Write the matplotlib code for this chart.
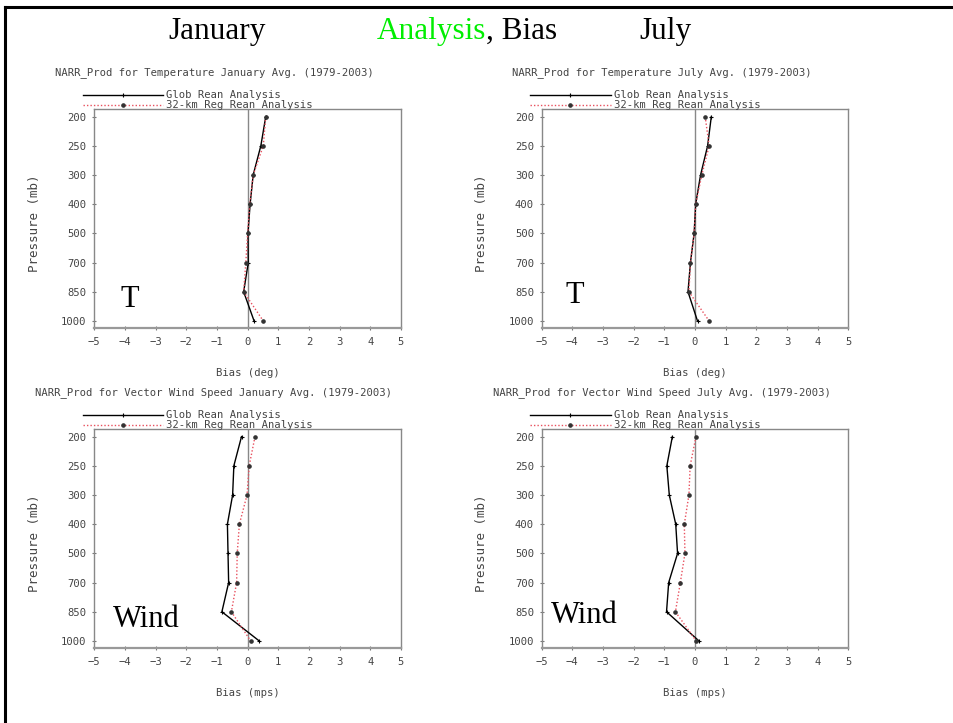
import matplotlib
matplotlib.use("Agg")
import matplotlib.pyplot as plt
from matplotlib.lines import Line2D
import numpy as np

# pressure levels (mb), equally spaced on the chart
levels = [200, 250, 300, 400, 500, 700, 850, 1000]

# bias values, top (200 mb) to bottom (1000 mb)
glob_t_jan = [0.59, 0.43, 0.18, 0.08, 0.01, 0.02, -0.13, 0.21]
reg_t_jan = [0.59, 0.51, 0.18, 0.07, 0.00, -0.06, -0.13, 0.51]
glob_t_jul = [0.53, 0.41, 0.18, 0.02, -0.03, -0.15, -0.23, 0.08]
reg_t_jul = [0.33, 0.46, 0.22, 0.02, -0.03, -0.15, -0.20, 0.46]
glob_w_jan = [-0.20, -0.45, -0.49, -0.66, -0.64, -0.62, -0.84, 0.38]
reg_w_jan = [0.24, 0.05, -0.02, -0.27, -0.34, -0.36, -0.53, 0.10]
glob_w_jul = [-0.74, -0.92, -0.84, -0.63, -0.57, -0.86, -0.93, 0.13]
reg_w_jul = [0.03, -0.16, -0.20, -0.35, -0.33, -0.48, -0.64, 0.04]

panel_titles = [
    "NARR_Prod for Temperature January Avg. (1979-2003)",
    "NARR_Prod for Temperature July Avg. (1979-2003)",
    "NARR_Prod for Vector Wind Speed January Avg. (1979-2003)",
    "NARR_Prod for Vector Wind Speed July Avg. (1979-2003)",
]
x_labels = ["Bias (deg)", "Bias (deg)", "Bias (mps)", "Bias (mps)"]
big_labels = ["T", "T", "Wind", "Wind"]
series_names = ["Glob Rean Analysis", "32-km Reg Rean Analysis"]

mono = "DejaVu Sans Mono"
small = 7.6
gray_txt = "#444444"

W, H = 954, 723
fig = plt.figure(figsize=(W / 100, H / 100), dpi=100)

# slide frame (top and left edges)
fig.add_artist(Line2D([5 / W, 1.0], [1 - 7 / H, 1 - 7 / H], color="black", lw=2.2))
fig.add_artist(Line2D([5 / W, 5 / W], [0.0, 1 - 7 / H], color="black", lw=2.2))

# header
fig.text(217 / W, 1 - 39 / H, "January", fontsize=22.5, family="Liberation Serif",
         ha="center", va="baseline")
fig.text(377 / W, 1 - 39 / H, "Analysis", fontsize=22.5, family="Liberation Serif",
         color="#00ee00", ha="left", va="baseline")
fig.text(486 / W, 1 - 39 / H, ", Bias", fontsize=22.5, family="Liberation Serif",
         ha="left", va="baseline")
fig.text(665 / W, 1 - 39 / H, "July", fontsize=22.5, family="Liberation Serif",
         ha="center", va="baseline")

ax_w, ax_h = 306.7 / W, 219 / H
lefts = [94.3 / W, 541.7 / W]
bottoms = [1 - 328.3 / H, 1 - 648.3 / H]
title_y = [1 - 72.7 / H, 1 - 392.7 / H]
title_x = [214 / W, 662 / W]
big_pos = [(0.084, 0.097), (0.079, 0.116), (0.061, 0.097), (0.030, 0.116)]

data = [(glob_t_jan, reg_t_jan), (glob_t_jul, reg_t_jul),
        (glob_w_jan, reg_w_jan), (glob_w_jul, reg_w_jul)]

y = np.arange(len(levels))

for k in range(4):
    r, c = divmod(k, 2)
    ax = fig.add_axes([lefts[c], bottoms[r], ax_w, ax_h])
    g, rg = data[k]
    ax.axvline(0, color="#888888", lw=1.0, zorder=1)
    ax.plot(g, y, color="black", lw=1.0, marker="+", ms=3, mew=0.8,
            label=series_names[0], zorder=3)
    ax.plot(rg, y, color="#e8505e", lw=1.0, ls=(0, (1, 1.5)), marker="o", ms=2.3,
            mfc="#333333", mec="#333333", label=series_names[1], zorder=4)

    ax.set_xlim(-5, 5)
    ax.set_ylim(len(levels) - 0.75, -0.25)
    ax.set_xticks(np.arange(-5, 6))
    ax.set_yticks(y)
    ax.set_yticklabels([str(v) for v in levels])
    for sp in ax.spines.values():
        sp.set_color("#888888")
        sp.set_linewidth(1.0)
    ax.spines["bottom"].set_linewidth(1.6)
    ax.spines["bottom"].set_color("#999999")
    ax.tick_params(direction="inout", length=3, width=0.8, color="#777777",
                   labelsize=small, labelcolor=gray_txt)
    ax.tick_params(axis="y", pad=4)
    ax.tick_params(axis="x", pad=5)
    for lab in ax.get_xticklabels() + ax.get_yticklabels():
        lab.set_family(mono)

    ax.set_xlabel(x_labels[k], family=mono, fontsize=small, color=gray_txt)
    ax.xaxis.set_label_coords(0.5, -0.18)
    ax.set_ylabel("Pressure (mb)", family=mono, fontsize=9, color=gray_txt)
    ax.yaxis.set_label_coords(-0.175, 0.48)

    fig.text(title_x[c], title_y[r], panel_titles[k], family=mono, fontsize=small,
             color=gray_txt, ha="center", va="center")

    leg = ax.legend(loc="lower left", bbox_to_anchor=(-0.037, 0.995), frameon=False,
                    borderpad=0, borderaxespad=0, handlelength=7.6, handletextpad=0.3,
                    labelspacing=0.0, numpoints=1, prop={"family": mono, "size": small})
    for t in leg.get_texts():
        t.set_color(gray_txt)

    bx, by = big_pos[k]
    ax.text(bx, by, big_labels[k], transform=ax.transAxes, fontsize=22,
            family="Liberation Serif", ha="left", va="baseline")

fig.savefig("out.png", dpi=100)
